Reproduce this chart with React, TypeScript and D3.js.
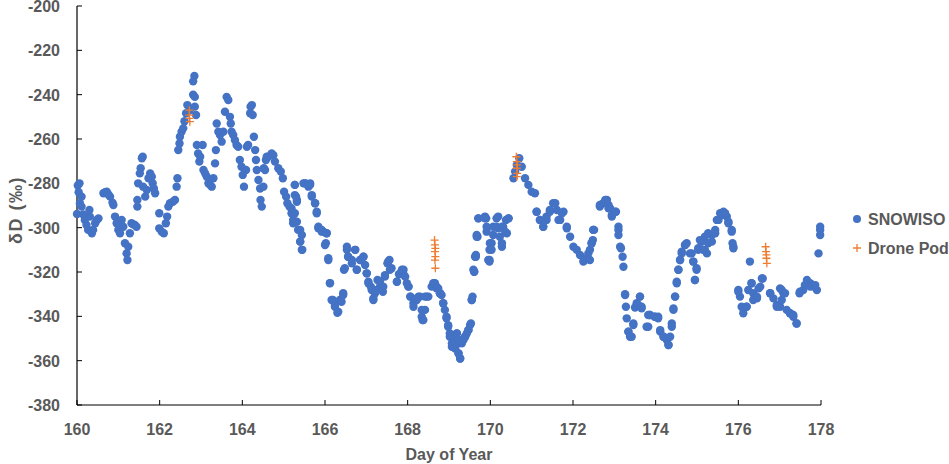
import React from "react";
import * as d3 from "d3";

const xTicks = [160, 162, 164, 166, 168, 170, 172, 174, 176, 178];
const yTicks = [-200, -220, -240, -260, -280, -300, -320, -340, -360, -380];

const snowisoDays = [
  160.00, 160.02, 160.04, 160.06, 160.07, 160.11, 160.11, 160.15, 160.19, 160.23, 160.27, 160.30, 160.31, 160.36, 160.39, 160.44, 160.48, 160.52,
  160.64, 160.68, 160.72, 160.76, 160.80, 160.86, 160.88, 160.92, 160.96, 161.00, 161.04, 161.08, 161.12, 161.16, 161.20, 161.22, 161.24, 161.28,
  161.32, 161.36, 161.40, 161.44, 161.46, 161.46, 161.48, 161.52, 161.54, 161.57, 161.59, 161.60, 161.65, 161.69, 161.73, 161.77, 161.81, 161.83,
  161.86, 161.89, 161.99, 161.99, 162.05, 162.10, 162.15, 162.18, 162.21, 162.25, 162.32, 162.37, 162.41, 162.43, 162.45, 162.48, 162.49, 162.53,
  162.57, 162.60, 162.64, 162.67, 162.73, 162.81, 162.85, 162.81, 162.84, 162.85, 162.88, 162.90, 162.93, 162.96, 162.98, 163.04, 163.06, 163.10,
  163.14, 163.18, 163.22, 163.26, 163.30, 163.34, 163.36, 163.38, 163.42, 163.46, 163.50, 163.54, 163.58, 163.62, 163.66, 163.70, 163.72, 163.74,
  163.78, 163.82, 163.86, 163.90, 163.94, 163.98, 164.01, 164.04, 164.09, 164.11, 164.14, 164.19, 164.20, 164.23, 164.25, 164.28, 164.31, 164.33,
  164.35, 164.39, 164.43, 164.44, 164.47, 164.51, 164.52, 164.55, 164.57, 164.59, 164.63, 164.71, 164.75, 164.79, 164.87, 164.93, 164.98, 165.01,
  165.06, 165.09, 165.14, 165.19, 165.23, 165.23, 165.27, 165.30, 165.32, 165.35, 165.40, 165.44, 165.48, 165.52, 165.60, 165.64, 165.68, 165.76,
  165.80, 165.84, 165.92, 165.98, 166.04, 166.02, 166.08, 166.12, 166.19, 166.24, 166.30, 166.36, 166.44, 166.46, 166.53, 166.56, 166.65, 166.73,
  166.77, 166.85, 166.93, 167.01, 167.05, 167.11, 167.17, 167.21, 167.27, 167.33, 167.40, 167.45, 167.51, 167.56, 167.61, 167.74, 167.79, 167.86,
  167.91, 167.98, 168.02, 168.07, 168.14, 168.22, 168.26, 168.30, 168.34, 168.36, 168.42, 168.46, 168.50, 168.58, 168.64, 168.66, 168.70, 168.74,
  168.78, 168.82, 168.86, 168.94, 168.98, 169.02, 169.07, 169.11, 169.15, 169.19, 169.23, 169.23, 169.27, 169.31, 169.35, 169.39, 169.43, 169.47,
  169.51, 169.55, 169.59, 169.61, 169.63, 169.65, 169.67, 169.69, 169.71, 169.87, 169.90, 169.91, 169.95, 169.98, 169.98, 170.03, 170.07, 170.15,
  170.19, 170.23, 170.28, 170.31, 170.38, 170.40, 170.44, 170.56, 170.60, 170.64, 170.70, 170.76, 170.84, 170.92, 171.00, 171.08, 171.12, 171.20,
  171.28, 171.36, 171.44, 171.52, 171.61, 171.69, 171.77, 171.85, 171.93, 172.01, 172.09, 172.17, 172.25, 172.29, 172.33, 172.37, 172.41, 172.45,
  172.48, 172.49, 172.51, 172.65, 172.73, 172.78, 172.82, 172.86, 172.90, 172.94, 173.04, 173.10, 173.10, 173.14, 173.20, 173.22, 173.26, 173.28,
  173.30, 173.34, 173.38, 173.46, 173.50, 173.58, 173.62, 173.66, 173.78, 173.82, 173.86, 173.98, 174.06, 174.11, 174.19, 174.27, 174.31, 174.35,
  174.39, 174.43, 174.47, 174.51, 174.55, 174.59, 174.63, 174.71, 174.75, 174.87, 174.91, 174.95, 174.99, 175.03, 175.11, 175.19, 175.24, 175.27,
  175.36, 175.44, 175.48, 175.56, 175.64, 175.72, 175.76, 175.84, 175.86, 175.88, 176.00, 176.04, 176.12, 176.20, 176.28, 176.32, 176.36, 176.45,
  176.53, 176.59, 176.77, 176.85, 176.93, 177.01, 177.05, 177.09, 177.17, 177.25, 177.33, 177.41, 177.48, 177.57, 177.66, 177.74, 177.82, 177.90,
  177.94, 177.98, 177.98,
  // further readings, 165.2 - 178
  165.27, 165.27, 165.32, 165.19, 165.27, 165.32, 165.40, 165.44, 165.40, 165.45, 165.52, 165.64, 165.68, 165.76, 165.80, 165.84, 165.92, 166.04,
  166.00, 166.08, 166.12, 166.16, 166.24, 166.32, 166.40, 166.44, 166.48, 166.53, 166.56, 166.65, 166.73, 166.77, 166.85, 166.93, 166.97, 167.01,
  167.05, 167.13, 167.17, 167.25, 167.33, 167.41, 167.45, 167.53, 167.57, 167.74, 167.82, 167.90, 167.94, 168.02, 168.06, 168.14, 168.22, 168.34,
  168.38, 168.42,
  168.62, 168.70, 168.78, 168.86, 168.90, 168.94, 168.98, 169.02, 169.07, 169.15, 169.23, 169.27, 169.19, 169.31, 169.39, 169.47, 169.53, 169.55,
  169.57, 169.61, 169.65, 169.67, 169.71, 169.87, 169.91, 169.99, 169.98, 170.03, 170.07, 170.15, 170.19, 170.28, 170.28, 170.36, 170.44, 171.12,
  171.20, 171.28, 171.36, 171.44, 171.57, 171.65, 171.73, 171.85,
  172.41, 172.45, 172.49, 172.65, 172.78, 172.86, 172.94, 173.02, 173.10, 173.16, 173.26, 173.34, 173.42, 173.46, 173.54, 173.62, 173.66, 173.82,
  173.86, 173.98, 174.06, 174.11, 174.19, 174.31, 174.39, 174.43, 174.47, 174.51, 174.55, 174.59, 174.63, 174.71, 174.83, 174.91, 174.95, 174.99,
  175.03, 175.11, 175.19, 175.27,
  175.07, 175.15, 175.36, 175.44, 175.52, 175.60, 175.68, 175.76, 175.84, 175.88, 176.00, 176.08, 176.12, 176.20, 176.24, 176.32, 176.36, 176.45,
  176.49, 176.57, 176.77, 176.93, 177.01, 177.05, 177.13, 177.25, 177.33, 177.41, 177.49, 177.61, 177.74, 177.86, 177.98,
];

const snowisoValues = [
  -293.8, -281.0, -284.0, -280.0, -289.0, -286.0, -290.5, -294.0, -296.5, -298.8, -301.0, -292.0, -295.0, -302.5, -301.0, -298.0, -296.5, -295.8,
  -284.5, -284.0, -283.8, -285.0, -286.0, -288.7, -289.8, -295.0, -298.0, -301.0, -302.5, -296.5, -299.6, -307.0, -311.6, -314.6, -308.6, -302.5,
  -298.0, -298.5, -298.8, -299.6, -290.5, -287.5, -280.0, -275.5, -273.2, -268.7, -268.0, -281.5, -286.0, -283.0, -277.7, -275.5, -277.0, -280.0,
  -282.3, -284.5, -293.5, -300.3, -301.8, -302.5, -298.0, -295.0, -290.5, -289.0, -288.3, -287.5, -281.5, -277.7, -265.0, -262.0, -259.0, -256.7,
  -255.2, -252.0, -248.4, -244.7, -247.0, -240.0, -241.0, -234.0, -231.6, -245.4, -249.2, -262.7, -266.5, -270.2, -268.0, -262.7, -274.0, -275.5,
  -277.0, -280.0, -280.7, -281.5, -277.7, -271.0, -265.0, -253.0, -256.7, -258.2, -261.2, -256.7, -247.7, -241.0, -242.4, -250.0, -253.0, -256.7,
  -258.2, -260.5, -262.7, -263.5, -269.5, -272.5, -276.2, -281.5, -274.0, -263.5, -262.7, -248.4, -245.4, -244.7, -249.2, -259.0, -265.0, -269.5,
  -274.0, -278.5, -282.3, -287.5, -290.5, -281.5, -273.2, -274.0, -269.5, -268.0, -268.0, -266.5, -267.3, -270.2, -273.2, -274.7, -277.7, -283.8,
  -286.0, -289.0, -290.5, -293.5, -296.5, -298.0, -280.7, -286.0, -288.3, -301.0, -306.3, -310.0, -280.0, -280.0, -281.5, -280.7, -286.0, -289.0,
  -293.5, -299.6, -301.0, -302.0, -302.5, -307.0, -314.6, -325.0, -332.6, -334.9, -338.4, -332.6, -329.6, -319.0, -308.6, -313.1, -316.1, -310.0,
  -319.0, -314.6, -313.1, -320.6, -324.4, -326.6, -332.6, -329.6, -323.6, -326.6, -328.9, -322.1, -316.1, -314.6, -318.3, -324.4, -321.0, -319.0,
  -321.4, -325.1, -326.6, -331.1, -335.7, -332.6, -331.1, -331.1, -340.2, -341.7, -337.1, -331.1, -331.1, -326.6, -325.1, -325.1, -326.6, -327.4,
  -329.6, -330.4, -334.1, -340.2, -344.0, -349.2, -353.7, -351.5, -349.2, -347.7, -352.2, -356.7, -359.0, -352.2, -350.7, -349.2, -347.7, -346.2,
  -343.9, -332.6, -319.0, -319.9, -313.1, -312.3, -304.1, -304.1, -295.8, -295.0, -295.8, -301.8, -314.6, -310.0, -315.3, -307.0, -299.6, -295.8,
  -300.3, -304.1, -308.6, -299.6, -296.5, -302.5, -295.8, -277.7, -274.7, -271.7, -268.7, -272.5, -277.7, -280.7, -283.8, -284.5, -292.8, -296.5,
  -299.6, -295.0, -292.8, -289.0, -292.0, -296.5, -292.8, -299.6, -304.1, -308.6, -310.0, -312.3, -315.3, -314.6, -313.8, -311.6, -310.0, -307.0,
  -305.6, -301.0, -301.0, -290.5, -289.0, -288.3, -287.5, -289.8, -291.3, -294.3, -292.8, -301.0, -303.3, -308.6, -313.1, -317.6, -330.0, -335.7,
  -340.9, -346.9, -349.2, -343.2, -336.0, -334.9, -331.1, -336.4, -344.7, -339.4, -339.4, -340.2, -340.2, -346.9, -349.2, -350.7, -352.9, -349.2,
  -343.2, -336.4, -331.1, -324.4, -319.0, -314.6, -311.6, -307.8, -307.0, -311.6, -315.3, -323.6, -318.3, -310.0, -306.3, -310.0, -311.6, -302.5,
  -303.3, -301.0, -296.5, -293.5, -292.8, -295.0, -298.0, -301.0, -307.0, -309.3, -328.1, -331.1, -336.4, -335.7, -315.3, -325.1, -329.6, -331.9,
  -326.6, -322.9, -329.6, -331.9, -334.9, -335.7, -328.1, -329.6, -337.1, -338.6, -340.2, -343.2, -329.6, -328.1, -323.6, -325.1, -326.6, -328.1,
  -311.6, -301.0, -303.3,
  // further readings, 165.2 - 178
  -280.7, -285.3, -287.5, -291.3, -293.5, -297.3, -301.0, -303.3, -306.3, -310.0, -280.0, -280.0, -285.3, -289.0, -292.8, -300.3, -301.8, -302.5,
  -307.8, -313.8, -325.1, -332.6, -335.7, -337.9, -333.4, -330.4, -318.3, -310.0, -313.1, -314.6, -310.0, -319.0, -314.6, -313.1, -316.8, -320.6,
  -325.1, -328.1, -331.9, -328.1, -324.4, -326.6, -321.4, -315.3, -319.0, -324.4, -320.6, -319.0, -322.1, -326.6, -331.1, -334.1, -331.9, -337.1,
  -341.7, -331.1,
  -325.1, -327.4, -329.6, -334.1, -337.1, -340.9, -344.7, -347.7, -352.2, -354.5, -356.7, -359.0, -347.7, -350.7, -349.2, -346.2, -343.2, -332.6,
  -331.1, -319.9, -313.1, -303.3, -295.8, -295.8, -299.6, -307.0, -314.6, -310.0, -303.3, -299.6, -295.0, -299.6, -307.0, -301.8, -295.8, -292.8,
  -296.5, -299.6, -296.5, -292.0, -289.0, -296.5, -293.5, -300.3,
  -314.6, -307.0, -301.0, -289.8, -287.5, -291.3, -295.0, -292.8, -299.6, -309.3, -330.4, -346.9, -349.2, -343.9, -334.1, -331.1, -335.7, -344.7,
  -339.4, -340.2, -340.9, -346.2, -349.2, -352.9, -344.7, -337.1, -331.1, -325.1, -319.0, -314.6, -310.8, -307.8, -311.6, -315.3, -323.6, -319.0,
  -309.3, -306.3, -304.1, -307.0,
  -305.6, -310.0, -306.3, -302.5, -296.5, -294.3, -293.5, -297.3, -301.8, -308.6, -328.9, -335.7, -338.6, -335.7, -328.1, -325.1, -332.6, -331.1,
  -327.4, -322.9, -329.6, -335.7, -327.4, -332.6, -329.6, -338.6, -339.4, -343.2, -328.9, -325.9, -326.6, -325.9, -299.6,
];

const droneDays = [
  162.72, 162.72, 162.72, 162.73,
  168.65, 168.66, 168.67, 168.66, 168.67, 168.66, 168.67,
  170.63, 170.64, 170.65, 170.64, 170.65, 170.64,
  176.66, 176.67, 176.68, 176.68, 176.69,
];
const droneValues = [
  -247.0, -249.2, -250.7, -252.2,
  -305.6, -307.8, -309.3, -310.8, -313.1, -314.6, -318.3,
  -268.0, -270.2, -271.7, -273.2, -275.5, -277.0,
  -308.6, -310.8, -312.3, -313.8, -316.1,
];

const BLUE = "#4472C4";
const ORANGE = "#ED7D31";
const GRAY = "#595959";
const FONT = "'Liberation Sans', Arial, sans-serif";

export default function App() {
  const width = 949;
  const height = 464;
  const x = d3.scaleLinear().domain([160, 178]).range([77, 821]);
  const y = d3.scaleLinear().domain([-380, -200]).range([405, 6]);

  const snow = snowisoDays.map((d, i) => ({ d, v: snowisoValues[i] }));
  const drone = droneDays.map((d, i) => ({ d, v: droneValues[i] }));
  const cs = 4;

  return (
    <svg
      width={width}
      height={height}
      style={{ position: "absolute", left: 0, top: 0, background: "#fff" }}
      fontFamily={FONT}
    >
      {/* axes */}
      <line x1={x(160)} x2={x(160)} y1={y(-200)} y2={y(-380)} stroke="#000" strokeWidth={1.2} />
      <line x1={x(160)} x2={x(178)} y1={y(-380)} y2={y(-380)} stroke="#000" strokeWidth={1.2} />
      {yTicks.map((t) => (
        <g key={"y" + t}>
          <line x1={x(160)} x2={x(160) + 5} y1={y(t)} y2={y(t)} stroke="#000" strokeWidth={1} />
          <text x={60} y={y(t) + 6} textAnchor="end" fontSize={16} fontWeight="bold" fill={GRAY}>
            {t}
          </text>
        </g>
      ))}
      {xTicks.map((t) => (
        <g key={"x" + t}>
          <line x1={x(t)} x2={x(t)} y1={y(-380)} y2={y(-380) - 5} stroke="#000" strokeWidth={1} />
          <text x={x(t)} y={435} textAnchor="middle" fontSize={16} fontWeight="bold" fill={GRAY}>
            {t}
          </text>
        </g>
      ))}
      <text x={449} y={460} textAnchor="middle" fontSize={16} fontWeight="bold" fill={GRAY}>
        Day of Year
      </text>
      <text
        transform="translate(22,210) rotate(-90)"
        textAnchor="middle"
        fontSize={18}
        fontWeight="bold"
        fill={GRAY}
        letterSpacing={1.5}
      >
        δD (‰)
      </text>

      {/* SNOWISO */}
      {snow.map((p, i) => (
        <circle key={"s" + i} cx={x(p.d)} cy={y(p.v)} r={4.2} fill={BLUE} />
      ))}

      {/* Drone Pod */}
      {drone.map((p, i) => (
        <path
          key={"d" + i}
          d={`M${x(p.d) - cs},${y(p.v)}H${x(p.d) + cs}M${x(p.d)},${y(p.v) - cs}V${y(p.v) + cs}`}
          stroke={ORANGE}
          strokeWidth={1.3}
          fill="none"
        />
      ))}

      {/* legend */}
      <circle cx={857} cy={219} r={4} fill={BLUE} />
      <text x={868} y={225} fontSize={16} fontWeight="bold" fill={GRAY}>
        SNOWISO
      </text>
      <path d={`M${857 - cs},248H${857 + cs}M857,${248 - cs}V${248 + cs}`} stroke={ORANGE} strokeWidth={1.3} />
      <text x={868} y={254} fontSize={16} fontWeight="bold" fill={GRAY}>
        Drone Pod
      </text>
    </svg>
  );
}
